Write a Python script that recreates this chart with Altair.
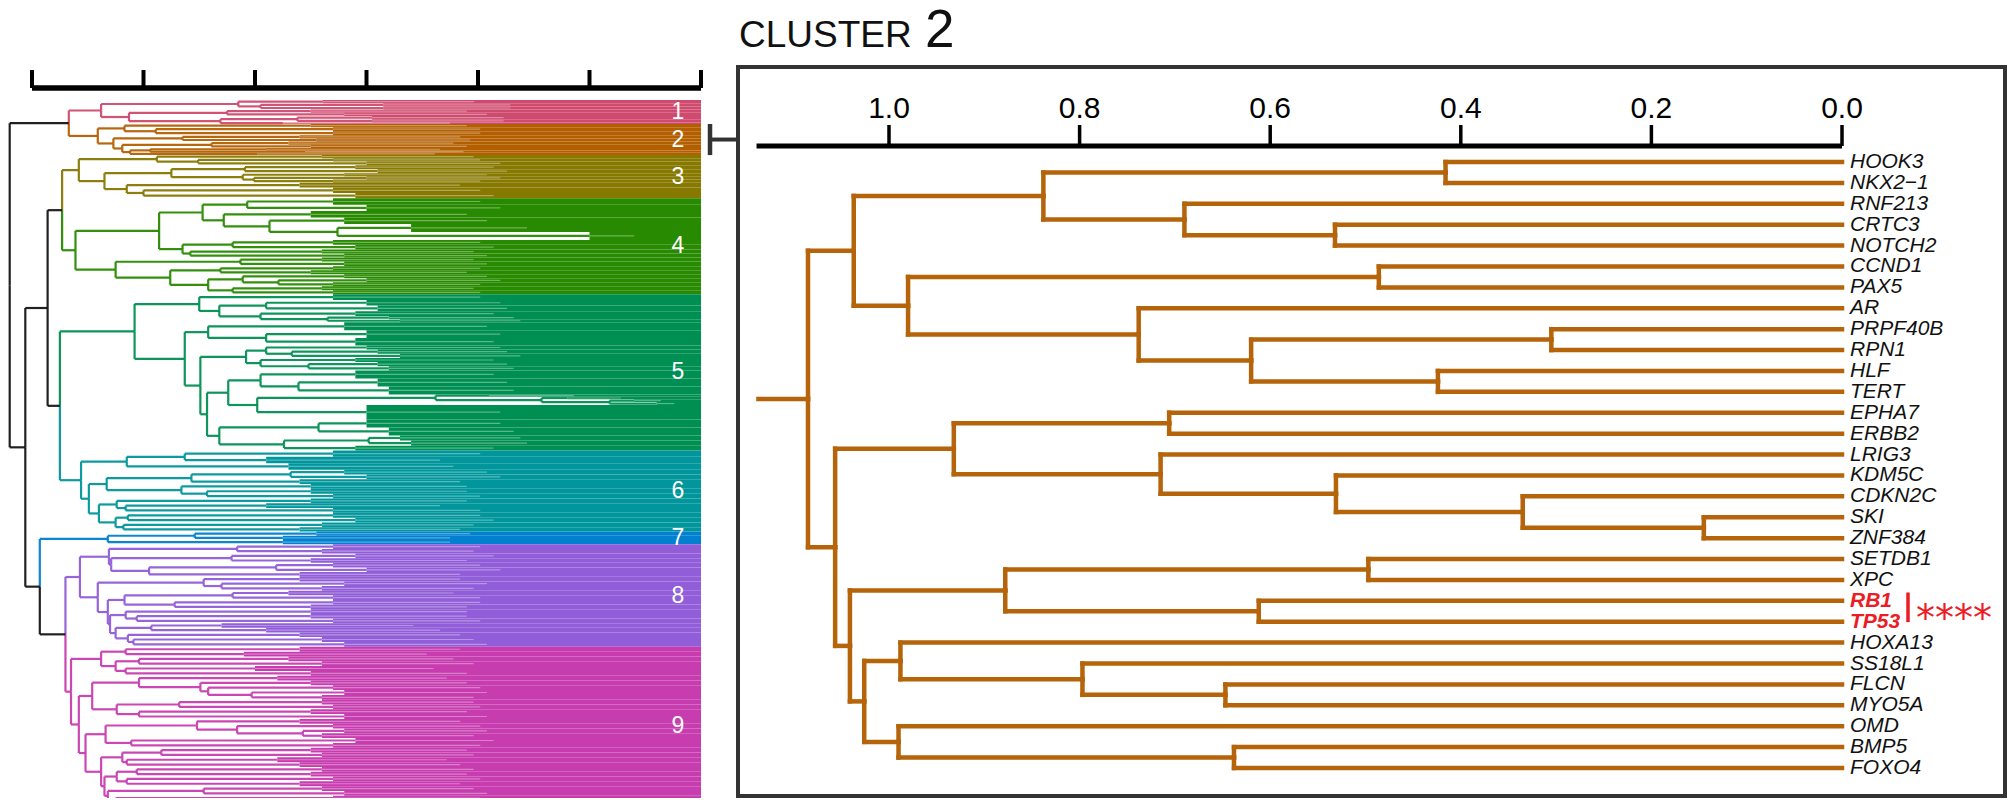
import altair as alt
import pandas as pd

FONT = "Liberation Sans, Arial, Helvetica, sans-serif"

# ---------------- overview dendrogram (left) ----------------
cluster_labels = ["1", "2", "3", "4", "5", "6", "7", "8", "9"]
cluster_colors = ["#CF4A6F", "#B35F00", "#877800", "#278A00", "#008F52",
                  "#00969B", "#0080CF", "#915DD8", "#C73DB0"]
top_color = "#151515"

# nodes: (merge height, child, child); terminal groups: [leaf count, height where the dense leaf block begins]
c1 = (5.38,
      (4.15, [2, 3.39], (3.95, [2, 2.85], [2, 2.85])),
      (5.13, (4.25, [2, 3.5], [2, 3.2]), (4.31, (3.62, [2, 2.95], [2, 2.95]), [1, 3.75])))
c2 = (5.41,
      (5.17, [2, 3.5], (4.89, [2.5, 3.3], [2.5, 3.3])),
      (5.27, (4.65, [2, 3.6], [2, 3.45]),
             (5.19, (4.39, [2, 3.7], [2, 3.5]),
                    (5.12, (4.94, [1.5, 3.9], [1.4, 3.55]), [1.5, 3.98]))))
c3 = (5.58,
      (4.88, [2, 3.4], (4.51, [2, 3.3], [2.3, 3.0])),
      (5.35,
       (4.75, (4.09, [2.5, 3.1], [2.5, 2.9]), (4.11, [2, 3.2], (4.01, [2, 3.0], [2, 3.3]))),
       (5.15, [3, 3.6], (5.00, [3.4, 3.3], [3.3, 3.1]))))
c4 = (5.61,
      (4.86,
       (4.47, (4.07, [4, 3.3], [4, 3.0]),
              (4.28, [4, 3.5], (3.87, [4, 3.2], (3.26, [5, 2.6], [5, 1.0])))),
       (4.65, (4.20, [3, 3.3], [3, 3.1]), (4.58, [2.5, 3.4], [2.5, 3.2]))),
      (5.25,
       (4.13, [2.5, 3.4], [3, 3.2]),
       (4.76, (4.31, [2.5, 3.3], [2.5, 3.5]),
              (4.42, (4.11, [2.5, 3.2], (3.79, [2.5, 3.0], [2.5, 3.3])),
                     (4.20, [2.5, 3.4], [2.5, 3.3])))))
c5 = (5.08,
      (4.50, [3.5, 3.3], (4.32, (3.90, [3.5, 3.0], [3.5, 2.9]),
                               (3.95, [3, 3.1], (3.35, [2, 2.8], [2, 2.7])))),
      (4.63,
       (4.42, [5, 3.2], (3.90, [4.7, 3.0], [4.7, 3.1])),
       (4.49,
        (4.08, (3.90, [2.6, 3.0], (3.67, [2.6, 2.9], [2.6, 2.7])),
               (3.95, [2.6, 3.1], (3.52, [2.6, 2.9], [2.6, 2.8]))),
        (4.43,
         (4.24, (3.95, [5, 3.1], (3.61, [5, 2.9], [5, 2.8])),
                (3.98, (2.38, [1.5, 1.9], (1.43, [1.5, 1.2], (0.82, [1.8, 0.6], [1.8, 0.4]))),
                       [9, 3.0])),
         (4.32, (3.43, [5, 3.0], [5, 2.8]),
                (3.74, (2.98, [3.2, 2.7], [3.2, 2.6]), [3, 3.1]))))))
c6 = (5.56,
      (5.15, (4.63, [4, 3.3], [4, 3.9]), [4, 3.7]),
      (5.49,
       (5.33, (4.57, (3.68, [3, 3.2], [3, 3.0]), [3, 3.6]),
              (4.66, [3, 3.5], (4.43, [3, 3.5], [3, 3.3]))),
       (5.40, (5.24, [3, 3.5], (5.16, [3, 3.9], [3, 3.3])),
              (5.25, (5.14, [3, 3.3], [3, 3.1]), (5.18, [3, 3.4], [2.6, 3.6])))))
c7 = (5.32, (4.54, [2.7, 3.45], [2.7, 3.75]), [2.6, 3.75])
c8 = (5.57,
      (5.31, (4.16, [2.9, 3.3], [2.9, 3.4]),
             (5.29, (4.21, [2.9, 3.1], [2.9, 3.5]),
                    (4.95, (3.81, [2.9, 3.3], [2.9, 3.0]), [2.9, 3.6]))),
      (5.41, (4.46, [2.9, 3.6], (4.30, [2.9, 3.2], [2.9, 3.4])),
             (5.32, (5.17, (4.20, [2.9, 3.7], [2.9, 3.3]), (4.72, [2.9, 3.3], [2.9, 3.5])),
                    (5.30, (5.16, [2.9, 3.5], (5.06, [2.9, 3.5], [2.9, 3.3])),
                           (5.25, (4.93, [2.9, 4.3], [2.9, 3.9]),
                                  (5.14, [2.9, 3.6], (5.09, [3.0, 3.4], [3.1, 3.2])))))))
c9 = (5.65,
      (5.38, (5.16, [3, 3.6], [3, 4.1]),
             (5.25, (5.04, [3, 3.7], [3, 3.4]), (5.16, [3, 4.0], [3, 3.5]))),
      (5.58,
       (5.46, (5.04, [3, 3.8], (4.49, [3, 3.5], (4.42, [3, 3.3], (4.03, [3, 3.2], [3, 3.4])))),
              (5.24, (4.68, [3, 3.4], [3, 3.3]), (5.04, [3, 3.5], [3, 3.2]))),
       (5.52,
        (5.34, (4.52, [3, 3.6], (4.16, [3, 3.3], (3.57, [3, 3.2], [3, 3.4]))),
               (5.11, [3, 3.1], [3, 3.3])),
        (5.38, (5.19, (4.84, [3, 3.5], [3, 3.4]), (5.15, [3, 3.8], [3, 3.6])),
               (5.35, (5.24, (5.06, [3, 3.4], [3, 3.5]), (5.15, [3, 3.3], [3, 3.6])),
                      (5.32, (4.46, [3, 3.4], [3, 3.2]), (5.25, [3, 3.3], [3.4, 3.5])))))))
cluster_trees = [c1, c2, c3, c4, c5, c6, c7, c8, c9]
overview_top = (6.20, (5.67, "C1", "C2"),
                (6.06, (5.86, (5.73, "C3", "C4"), (5.75, "C5", "C6")),
                       (5.93, "C7", (5.70, "C8", "C9"))))
overview_ticks = [0, 1, 2, 3, 4, 5, 6]

# ---------------- cluster 2 detail dendrogram (right) ----------------
detail_tree = (1.085,
  (1.037,
   (0.838, (0.416, "HOOK3", "NKX2\u22121"), (0.690, "RNF213", (0.532, "CRTC3", "NOTCH2"))),
   (0.980, (0.486, "CCND1", "PAX5"),
           (0.738, "AR", (0.620, (0.305, "PRPF40B", "RPN1"), (0.424, "HLF", "TERT"))))),
  (1.0565,
   (0.932, (0.706, "EPHA7", "ERBB2"),
           (0.715, "LRIG3", (0.531, "KDM5C", (0.335, "CDKN2C", (0.145, "SKI", "ZNF384"))))),
   (1.041,
    (0.878, (0.497, "SETDB1", "XPC"), (0.612, "RB1", "TP53")),
    (1.026, (0.988, "HOXA13", (0.797, "SS18L1", (0.647, "FLCN", "MYO5A"))),
            (0.990, "OMD", (0.638, "BMP5", "FOXO4"))))))
detail_root_stub = 1.137
detail_ticks = [1.0, 0.8, 0.6, 0.4, 0.2, 0.0]
detail_tick_labels = ["1.0", "0.8", "0.6", "0.4", "0.2", "0.0"]
detail_axis_extent = 1.139
highlight = ["RB1", "TP53"]
signif_text = "****"
detail_color = "#B5640A"
red = "#EC1C24"
title_word, title_num = "CLUSTER", "2"

# ---------------- layout of the trees ----------------
segs_left, fills, bands = [], [], {}
pos = [0.0]


def walk_left(node, cl):
    if isinstance(node, str):
        k = int(node[1:]) - 1
        start = pos[0]
        y, h, _ = walk_left(cluster_trees[k], k)
        bands[k] = (start, pos[0])
        return y, h, k
    if isinstance(node, list):
        w, f = node
        y0 = pos[0]
        pos[0] += w
        fills.append(dict(y0=y0, y1=y0 + w, f=f, zero=0.0, ym=y0 + w / 2, s2=f * 0.6,
                          color=cluster_colors[cl]))
        return y0 + w / 2, f, cl
    h = node[0]
    kids = [walk_left(c, cl) for c in node[1:]]
    ny = (kids[0][0] + kids[-1][0]) / 2
    for cy, ch, ccl in kids:
        col = cluster_colors[ccl] if ccl is not None else top_color
        segs_left.append(dict(x=h, x2=ch, y=cy, y2=cy, color=col))
        segs_left.append(dict(x=h, x2=h, y=ny, y2=cy, color=col))
    return ny, h, cl


walk_left(overview_top, None)
total_leaves = pos[0]

segs_right, leaves = [], []


def walk_right(node):
    if isinstance(node, str):
        i = len(leaves)
        leaves.append(dict(name=node, y=i, x=0.0))
        return float(i), 0.0
    h = node[0]
    kids = [walk_right(c) for c in node[1:]]
    ny = (kids[0][0] + kids[-1][0]) / 2
    for cy, ch in kids:
        segs_right.append(dict(x=h, x2=ch, y=cy, y2=cy))
        segs_right.append(dict(x=h, x2=h, y=ny, y2=cy))
    return ny, h


ry, rh = walk_right(detail_tree)
segs_right.append(dict(x=rh, x2=detail_root_stub, y=ry, y2=ry))
n_leaves = len(leaves)

df_segs_left = pd.DataFrame(segs_left)
df_fills = pd.DataFrame(fills)
df_bands = pd.DataFrame([dict(label=cluster_labels[k], yc=(a + b) / 2, ya=a, yb=b)
                         for k, (a, b) in sorted(bands.items())])
df_ticks_l = pd.DataFrame(dict(t=overview_ticks))
df_dom_l = pd.DataFrame([dict(a=min(overview_ticks), b=max(overview_ticks))])
df_segs_right = pd.DataFrame(segs_right)
df_leaves = pd.DataFrame(leaves)
df_norm = df_leaves[~df_leaves["name"].isin(highlight)]
df_hi = df_leaves[df_leaves["name"].isin(highlight)]
df_ticks_r = pd.DataFrame(dict(t=detail_ticks, lab=detail_tick_labels))
df_dom_r = pd.DataFrame([dict(a=0.0, b=detail_axis_extent)])
hi_idx = sorted(df_hi["y"].tolist())
df_bar = pd.DataFrame([dict(a=hi_idx[0] - 0.4, b=hi_idx[-1] + 0.02, s=hi_idx[-1], txt=signif_text)])
c2_band = df_bands[df_bands["label"] == "2"].iloc[0]
df_bracket = pd.DataFrame([dict(a=c2_band["ya"], b=c2_band["yb"], c=c2_band["yc"])])
df_one = pd.DataFrame([dict(w=title_word, n=title_num)])

# ---------------- scales ----------------
xL = alt.Scale(domain=[6, 0], range=[24, 693], zero=False, nice=False)
yL = alt.Scale(domain=[0, total_leaves], range=[92, 798], zero=False, nice=False)
xR = alt.Scale(domain=[1.0, 0.0], range=[881, 1834], zero=False, nice=False)
yR = alt.Scale(domain=[0, n_leaves - 1], range=[154, 760], zero=False, nice=False)
NOAX = None

# ---------------- left layers ----------------
fill_layer = alt.Chart(df_fills).mark_rect().encode(
    x=alt.X("f:Q", scale=xL, axis=NOAX), x2="zero:Q",
    y=alt.Y("y0:Q", scale=yL, axis=NOAX), y2="y1:Q",
    color=alt.Color("color:N", scale=None))
streak_layer = alt.Chart(df_fills).mark_rule(color="white", opacity=0.35, strokeWidth=1.2).encode(
    x=alt.X("f:Q", scale=xL, axis=NOAX), x2="s2:Q",
    y=alt.Y("ym:Q", scale=yL, axis=NOAX))
branch_left = alt.Chart(df_segs_left).mark_rule(strokeWidth=2.2, opacity=0.95).encode(
    x=alt.X("x:Q", scale=xL, axis=NOAX), x2="x2:Q",
    y=alt.Y("y:Q", scale=yL, axis=NOAX), y2="y2:Q",
    color=alt.Color("color:N", scale=None))
band_text = alt.Chart(df_bands).mark_text(color="white", fontSize=23, font=FONT, baseline="middle").encode(
    x=alt.value(670), y=alt.Y("yc:Q", scale=yL, axis=NOAX), text="label:N")
axis_l_dom = alt.Chart(df_dom_l).mark_rule(color="black", strokeWidth=5.5).encode(
    x=alt.X("a:Q", scale=xL, axis=NOAX), x2="b:Q", y=alt.value(80))
axis_l_ticks = alt.Chart(df_ticks_l).mark_rule(color="black", strokeWidth=4).encode(
    x=alt.X("t:Q", scale=xL, axis=NOAX), y=alt.value(62), y2=alt.value(80))

# ---------------- connector ----------------
bracket_v = alt.Chart(df_bracket).mark_rule(color="#333333", strokeWidth=4.5).encode(
    x=alt.value(702), y=alt.Y("a:Q", scale=yL, axis=NOAX), y2="b:Q")
bracket_h = alt.Chart(df_bracket).mark_rule(color="#333333", strokeWidth=4).encode(
    x=alt.value(702), x2=alt.value(731), y=alt.Y("c:Q", scale=yL, axis=NOAX))

# ---------------- right panel frame ----------------
BOX_L, BOX_R, BOX_T, BOX_B = 730, 1997, 59, 788
frame_style = dict(color="#333333", strokeWidth=4, strokeCap="square")
frame_top = alt.Chart(df_one).mark_rule(**frame_style).encode(
    x=alt.value(BOX_L), x2=alt.value(BOX_R), y=alt.value(BOX_T))
frame_bottom = alt.Chart(df_one).mark_rule(**frame_style).encode(
    x=alt.value(BOX_L), x2=alt.value(BOX_R), y=alt.value(BOX_B))
frame_left = alt.Chart(df_one).mark_rule(**frame_style).encode(
    x=alt.value(BOX_L), y=alt.value(BOX_T), y2=alt.value(BOX_B))
frame_right = alt.Chart(df_one).mark_rule(**frame_style).encode(
    x=alt.value(BOX_R), y=alt.value(BOX_T), y2=alt.value(BOX_B))

title_a = alt.Chart(df_one).mark_text(fontSize=37, font=FONT, align="left", baseline="alphabetic",
                                      color="#111111").encode(
    x=alt.value(731), y=alt.value(39), text="w:N")
title_b = alt.Chart(df_one).mark_text(fontSize=53, font=FONT, align="left", baseline="alphabetic",
                                      color="#111111").encode(
    x=alt.value(917), y=alt.value(39), text="n:N")
axis_r_dom = alt.Chart(df_dom_r).mark_rule(color="black", strokeWidth=5).encode(
    x=alt.X("a:Q", scale=xR, axis=NOAX), x2="b:Q", y=alt.value(138))
axis_r_ticks = alt.Chart(df_ticks_r).mark_rule(color="black", strokeWidth=3.5).encode(
    x=alt.X("t:Q", scale=xR, axis=NOAX), y=alt.value(117), y2=alt.value(138))
axis_r_labels = alt.Chart(df_ticks_r).mark_text(fontSize=30, font=FONT, baseline="alphabetic",
                                                align="center", color="black").encode(
    x=alt.X("t:Q", scale=xR, axis=NOAX), y=alt.value(110), text="lab:N")
branch_right = alt.Chart(df_segs_right).mark_rule(color=detail_color, strokeWidth=4.5,
                                                  strokeCap="square").encode(
    x=alt.X("x:Q", scale=xR, axis=NOAX), x2="x2:Q",
    y=alt.Y("y:Q", scale=yR, axis=NOAX), y2="y2:Q")
leaf_text = alt.Chart(df_norm).mark_text(fontSize=21, font=FONT, fontStyle="italic", align="left",
                                         baseline="middle", dx=8, color="#111111").encode(
    x=alt.X("x:Q", scale=xR, axis=NOAX), y=alt.Y("y:Q", scale=yR, axis=NOAX), text="name:N")
leaf_hi = alt.Chart(df_hi).mark_text(fontSize=21, font=FONT, fontStyle="italic", fontWeight="bold",
                                     align="left", baseline="middle", dx=8, color=red).encode(
    x=alt.X("x:Q", scale=xR, axis=NOAX), y=alt.Y("y:Q", scale=yR, axis=NOAX), text="name:N")
red_bar = alt.Chart(df_bar).mark_rule(color=red, strokeWidth=3.5).encode(
    x=alt.value(1900), y=alt.Y("a:Q", scale=yR, axis=NOAX), y2="b:Q")
stars = alt.Chart(df_bar).mark_text(fontSize=38, font="DejaVu Sans", align="left",
                                    baseline="alphabetic", dy=9, color=red).encode(
    x=alt.value(1908), y=alt.Y("s:Q", scale=yR, axis=NOAX), text="txt:N")

chart = alt.layer(
    fill_layer, streak_layer, branch_left, band_text, axis_l_dom, axis_l_ticks,
    bracket_v, bracket_h,
    frame_top, frame_bottom, frame_left, frame_right,
    title_a, title_b, axis_r_dom, axis_r_ticks, axis_r_labels, branch_right,
    leaf_text, leaf_hi, red_bar, stars
).resolve_scale(x="independent", y="independent").properties(
    width=2000, height=790, padding=0, autosize="none", background="white"
).configure_view(stroke=None)

chart.save("out.html", embed_options={"renderer": "svg", "actions": False})
